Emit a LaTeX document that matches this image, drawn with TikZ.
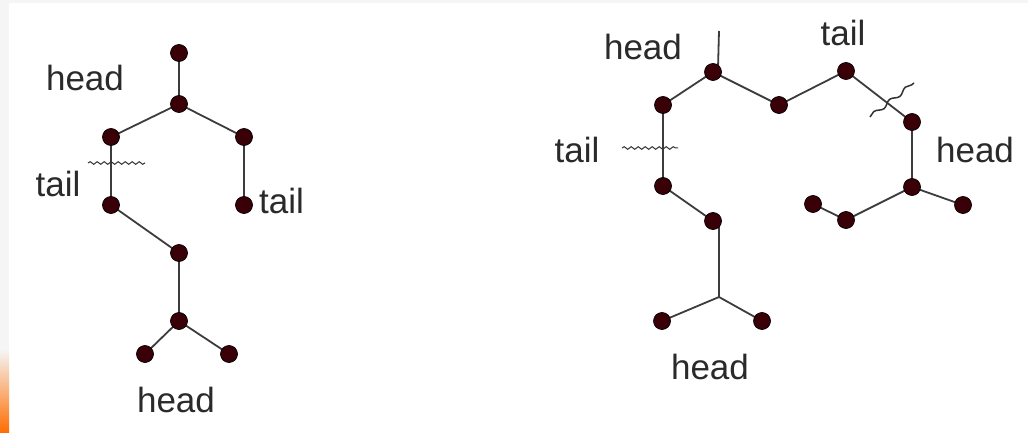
\documentclass[tikz,border=0pt]{standalone}
\usepackage{fontspec}
\setmainfont{Liberation Sans}
\usetikzlibrary{decorations.pathmorphing}
\definecolor{dotfill}{HTML}{3A0008}
\definecolor{edgecol}{HTML}{3C3C3C}
\definecolor{lbl}{HTML}{2A2A2A}
\begin{document}
\begin{tikzpicture}[x=1pt,y=-1pt,
  vtx/.style={circle,fill=dotfill,draw=black,line width=0.7pt,minimum size=17pt,inner sep=0pt},
  edge/.style={draw=edgecol,line width=1.8pt},
  lab/.style={font=\fontsize{35}{35}\selectfont,text=lbl,inner sep=0pt},
  cut/.style={draw=black!80,line width=1pt,decorate,decoration={snake,amplitude=1.3pt,segment length=7pt}}]
% page frame
\fill[gray!8] (0,0) rectangle (1028,433);
\fill[white] (9,3) rectangle (1028,433);
\shade[top color=gray!8,bottom color=orange!85!red] (0,350) rectangle (9,433);

% left tree: edges first, then vertices on top
\coordinate (a1) at (179,53);
\coordinate (a2) at (179,104);
\coordinate (a3) at (111,137);
\coordinate (a4) at (244,137);
\coordinate (a5) at (111,205);
\coordinate (a6) at (244,205);
\coordinate (a7) at (179,253);
\coordinate (a8) at (179,321);
\coordinate (a9) at (145,354);
\coordinate (a10) at (229,354);
\draw[edge] (a1) -- (a2) (a2) -- (a3) (a2) -- (a4) (a3) -- (a5) (a4) -- (a6)
  (a5) -- (a7) (a7) -- (a8) (a8) -- (a9) (a8) -- (a10);
\foreach \v in {a1,a2,a3,a4,a5,a6,a7,a8,a9,a10} \node[vtx] at (\v) {};
\coordinate (wl1) at (88,163);
\coordinate (wl2) at (145,163);
\draw[cut] (wl1) -- (wl2);
\node[lab] (h1) at (85,78) {head};
\node[lab] (t1) at (58,184) {tail};
\node[lab,anchor=west] (t2) at (259,201) {tail};
\node[lab] (h2) at (176,400) {head};

% right graph
\coordinate (b1) at (713,72);
\coordinate (b2) at (663,105);
\coordinate (b3) at (779,105);
\coordinate (b4) at (846,71);
\coordinate (b5) at (912,122);
\coordinate (b6) at (663,186);
\coordinate (b7) at (713,221);
\coordinate (b8) at (912,187);
\coordinate (b9) at (963,205);
\coordinate (b10) at (846,220);
\coordinate (b11) at (813,204);
\coordinate (b12) at (662,321);
\coordinate (b13) at (762,321);
\coordinate (top) at (719,31);
\coordinate (topend) at (718,68);
\coordinate (fork) at (719,297);
\coordinate (b7out) at (719,224);
\draw[edge] (top) -- (topend) (b1) -- (b2) (b1) -- (b3) (b3) -- (b4) (b4) -- (b5)
  (b2) -- (b6) (b6) -- (b7) (b5) -- (b8) (b8) -- (b9) (b8) -- (b10) (b10) -- (b11);
\draw[edge] (b7out) -- (fork) -- (b12) (fork) -- (b13);
\foreach \v in {b1,b2,b3,b4,b5,b6,b7,b8,b9,b10,b11,b12,b13} \node[vtx] at (\v) {};
\coordinate (wr1) at (622,148);
\coordinate (wr2) at (678,148);
\draw[cut] (wr1) -- (wr2);
\coordinate (wx1) at (870,117);
\coordinate (wx2) at (914,83);
\draw[cut,line width=1.5pt,decoration={snake,amplitude=2pt,segment length=20pt}] (wx1) -- (wx2);
\node[lab] (h3) at (643,47) {head};
\node[lab] (t3) at (843,33) {tail};
\node[lab] (t4) at (577,150) {tail};
\node[lab] (h4) at (975,150) {head};
\node[lab] (h5) at (710,367) {head};
\end{tikzpicture}
\end{document}
